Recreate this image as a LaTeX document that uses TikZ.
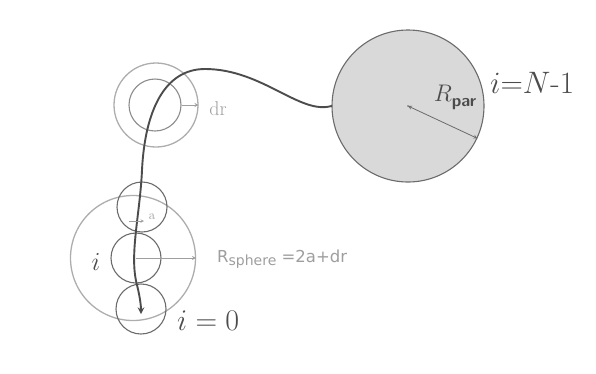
\RequirePackage{fix-cm}
\documentclass[tikz,border=0pt]{standalone}
\usepackage{amsmath}
\usepackage{fontspec}
\usepackage{xcolor}
\usepackage{tikz}
\usetikzlibrary{shapes,arrows,positioning,calc}

\newfontfamily\labelfont{DejaVu Sans}

\definecolor{beadgray}{gray}{0.42}
\definecolor{shellgray}{gray}{0.68}
\definecolor{chaingray}{gray}{0.30}
\definecolor{labelgray}{gray}{0.62}

\tikzset{
    bead/.style={circle,draw=beadgray,line width=1.1pt,inner sep=0pt,minimum size=50pt},
    shell/.style={circle,draw=shellgray,line width=1.3pt,inner sep=0pt},
    chain/.style={draw=chaingray,line width=1.9pt,line cap=round},
    radius/.style={draw=labelgray,line width=0.9pt}
}

\begin{document}
\begin{tikzpicture}[x=1pt,y=-1pt,>=stealth]
    \useasboundingbox (0,0) rectangle (596,373);

    % Large sphere around bead i
    \node[shell,minimum size=125pt] (sphere) at (133,258) {};

    % Beads of the chain
    \node[bead] (top) at (142,207) {};
    \node[bead] (mid) at (136,258) {};
    \node[bead] (first) at (141,309) {};

    % Shell of thickness dr
    \node[shell,minimum size=84pt] (outer) at (156,105) {};
    \node[bead,minimum size=52pt,draw=shellgray!80!black] (inner) at (155,105) {};

    % Last bead
    \node[circle,draw=beadgray,fill=black!15,line width=1.1pt,minimum size=152pt,inner sep=0pt] (par) at (408,106) {};

    % Chain path
    \draw[chain,->] (par.180) .. controls (300,115) and (262,69) .. (205,69)
        .. controls (165,69) and (145,110) .. (142,170)
        .. controls (140,215) and (129,255) .. (137,285)
        .. controls (140,297) and (141,306) .. (141,314);

    % Radii
    \coordinate (astart) at ($(top.center)+(-13,14)$);
    \draw[radius,->] (inner.east) -- (outer.east);
    \draw[radius,->] (mid.center) -- (sphere.east);
    \draw[radius,line width=0.6pt,->] (astart) -- ++(15,0);
    \draw[beadgray,line width=0.8pt,<->] (par.center) -- (par.-25);
    \fill[beadgray] (par.center) circle (0.9pt);

    % Labels
    \node[text=labelgray,font=\fontsize{20}{22}\selectfont] (drlabel) at (218,109) {dr};
    \node[text=labelgray,font=\fontsize{13}{15}\selectfont] (alabel) at (152,217) {a};
    \node[text=labelgray,font=\labelfont\fontsize{16.5}{18}\selectfont,anchor=west,inner sep=0pt] (rsphere) at (217,259)
        {R\raisebox{-3pt}{\fontsize{14}{16}\selectfont sphere} =2a+dr};
    \node[text=chaingray,font=\fontsize{26}{28}\selectfont] (ilabel) at (96,262) {$i$};
    \node[text=chaingray,font=\fontsize{30}{32}\selectfont,anchor=west,inner sep=0pt] (izero) at (177,321) {$i = 0$};
    \node[text=chaingray,font=\fontsize{24}{26}\selectfont,inner sep=0pt] (rpar) at (455,97)
        {$R$\raisebox{-5pt}{\fontsize{17}{19}\selectfont\sffamily\bfseries par}};
    \node[text=chaingray,font=\fontsize{31}{33}\selectfont,anchor=west,inner sep=0pt] (ilast) at (490,83) {$i{=}N$-$1$};
\end{tikzpicture}
\end{document}
